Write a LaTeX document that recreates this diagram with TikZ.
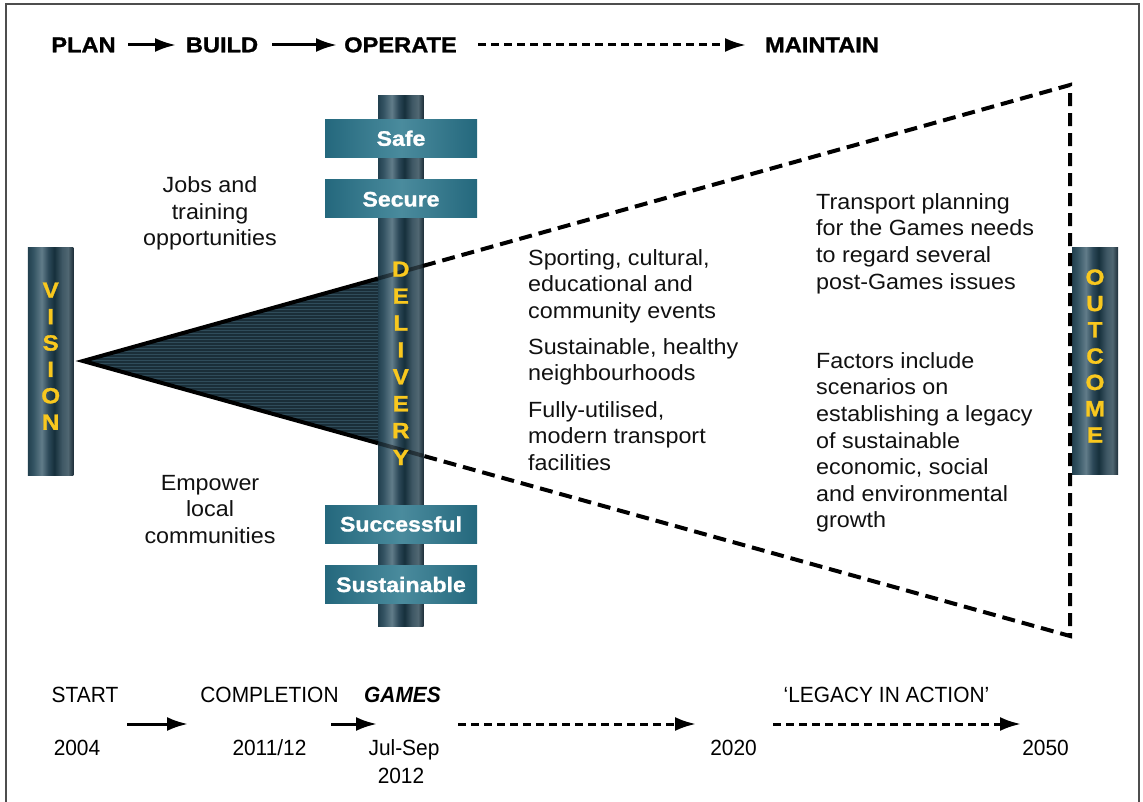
\documentclass[tikz,border=0pt]{standalone}
\usepackage{fontspec}
\setmainfont{Liberation Sans}
\newfontfamily\bodyf[FakeStretch=1.06]{Liberation Sans}
\newfontfamily\boldf[FakeStretch=1.1,FakeBold=1.2]{Liberation Sans Bold}
\newfontfamily\condf[FakeStretch=0.95]{Liberation Sans}
\usetikzlibrary{arrows.meta,patterns,calc}

\definecolor{pA}{HTML}{22404F}
\definecolor{pB}{HTML}{345463}
\definecolor{pC}{HTML}{617C89}
\definecolor{pD}{HTML}{2C4858}
\definecolor{pE}{HTML}{16303C}
\definecolor{pF}{HTML}{3F5865}
\definecolor{pG}{HTML}{506772}
\definecolor{pH}{HTML}{1D2E39}
\definecolor{pyel}{HTML}{F9C81E}
\definecolor{boxD}{HTML}{24687D}
\definecolor{boxL}{HTML}{4A8B9D}
\definecolor{tridark}{HTML}{1A2E38}
\definecolor{triline}{HTML}{2F4C5A}
\definecolor{framec}{HTML}{4D4D4D}
\definecolor{txt}{HTML}{111111}

\pgfdeclarehorizontalshading{pillarsh}{100bp}{color(0bp)=(pA); color(25bp)=(pA); color(31bp)=(pB); color(40bp)=(pC); color(47.5bp)=(pD); color(54bp)=(pE); color(62.5bp)=(pF); color(69bp)=(pG); color(75bp)=(pH); color(100bp)=(pH)}
\pgfdeclarehorizontalshading{boxsh}{100bp}{color(0bp)=(boxD); color(25bp)=(boxD); color(50bp)=(boxL); color(75bp)=(boxD); color(100bp)=(boxD)}

\tikzset{
  pillar/.style={shading=pillarsh, draw=none, inner sep=0pt, minimum width=45.5pt},
  pl/.style={text=pyel, font=\boldf\fontsize{22}{22}\selectfont, text height=15.5pt, text depth=0pt, inner sep=0pt},
  plate/.style={shading=boxsh, draw=none, minimum width=152pt, minimum height=38pt, inner sep=0pt, text=white, font=\boldf\fontsize{21}{21}\selectfont, text height=15pt, text depth=0pt},
  para/.style={inner sep=0pt, font=\bodyf\fontsize{22}{26.6}\selectfont, text=txt},
  hdr/.style={inner sep=0pt, font=\boldf\fontsize{21.5}{21.5}\selectfont, anchor=base},
  tline/.style={inner sep=0pt, font=\condf\fontsize{22}{27}\selectfont, anchor=base, text=black},
  solidarrow/.style={line width=3pt, -{Latex[length=21pt,width=14pt]}},
  dasharrow/.style={line width=3pt, dash pattern=on 8pt off 5pt, -{Latex[length=21pt,width=14pt]}},
  triedge/.style={line width=4pt, line join=miter},
  dashedge/.style={line width=4pt, dash pattern=on 13pt off 7pt, line join=miter},
}

\begin{document}
\begin{tikzpicture}[x=1pt,y=-1pt]
\useasboundingbox (0,0) rectangle (1143,802);
\fill[white] (0,0) rectangle (1143,802);
\draw[line width=2pt, draw=framec] (6,4) rectangle (1139,812);

% header
\node[hdr] (plan) at (83.5,52.3) {PLAN};
\node[hdr] (build) at (222,52.3) {BUILD};
\node[hdr] (operate) at (400.5,52.3) {OPERATE};
\node[hdr] (maintain) at (822,52.3) {MAINTAIN};
\coordinate (h1s) at (128,45);
\coordinate (h1e) at (176,45);
\coordinate (h2s) at (272,45);
\coordinate (h2e) at (337,45);
\coordinate (h3s) at (478,45);
\coordinate (h3e) at (746,45);
\draw[solidarrow] (h1s) -- (h1e);
\draw[solidarrow] (h2s) -- (h2e);
\draw[dasharrow] (h3s) -- (h3e);

% pillars
\node[pillar, minimum height=227pt] (vision) at (50.7,361.5) {};
\node[pillar, minimum height=530pt] (delivery) at (400.8,361) {};
\node[pillar, minimum width=46pt, minimum height=226pt] (outcome) at (1095,361) {};

% triangle and cone
\coordinate (apex) at (83,361);
\coordinate (cT) at (1070,85);
\coordinate (cB) at (1070,636);
\coordinate (tA) at ($(apex)!0.29889!(cT)$);
\coordinate (bA) at ($(apex)!0.29889!(cB)$);
\coordinate (tB) at ($(apex)!0.34448!(cT)$);
\coordinate (bB) at ($(apex)!0.34448!(cB)$);
\path[preaction={fill=tridark}, pattern=horizontal lines, pattern color=triline] (apex) -- (tA) -- (bA) -- cycle;
\draw[triedge] (tA) -- (apex) -- (bA);
\draw[triedge, draw opacity=0.45] (tA) -- (tB);
\draw[triedge, draw opacity=0.45] (bA) -- (bB);
\draw[dashedge] (tB) -- (cT) -- (cB) -- (bB);

% plates
\node[plate] (safe) at (401,138.3) {Safe};
\node[plate] (secure) at (401,199) {Secure};
\node[plate] (successful) at (401,524) {Successful};
\node[plate] (sustainable) at (401,584.5) {Sustainable};

% pillar letters
\foreach \l [count=\i] in {V,I,S,I,O,N}
  \node[pl] (vis\i) at (50.7,{290+(\i-1)*26.4}) {\l};
\foreach \l [count=\i] in {D,E,L,I,V,E,R,Y}
  \node[pl] (del\i) at (400.8,{269+(\i-1)*26.9}) {\l};
\foreach \l [count=\i] in {O,U,T,C,O,M,E}
  \node[pl] (out\i) at (1095,{277+(\i-1)*26.3}) {\l};

% paragraphs
\node[para, anchor=north, align=center] (jobs) at (210,173.7) {\strut Jobs and\\training\\opportunities};
\node[para, anchor=north, align=center] (empower) at (210,471.4) {\strut Empower\\local\\communities};
\node[para, anchor=north west, align=left] (events) at (528,246.4) {\strut Sporting, cultural,\\educational and\\community events};
\node[para, anchor=north west, align=left] (hoods) at (528,335.4) {\strut Sustainable, healthy\\neighbourhoods};
\node[para, anchor=north west, align=left] (facil) at (528,398.4) {\strut Fully-utilised,\\modern transport\\facilities};
\node[para, anchor=north west, align=left] (transport) at (816,190.4) {\strut Transport planning\\for the Games needs\\to regard several\\post-Games issues};
\node[para, anchor=north west, align=left] (factors) at (816,349.4) {\strut Factors include\\scenarios on\\establishing a legacy\\of sustainable\\economic, social\\and environmental\\growth};

% timeline
\node[tline] (start) at (85,702.7) {START};
\node[tline] (completion) at (269.5,702.7) {COMPLETION};
\node[tline] (games) at (402.5,702.7) {\bfseries\itshape GAMES};
\node[tline] (legacy) at (886.5,702.7) {‘LEGACY IN ACTION’};
\node[tline] (y2004) at (77,755) {2004};
\node[tline] (y2011) at (269.5,755) {2011/12};
\node[tline] (jul) at (404,755) {Jul-Sep};
\node[tline] (y2012) at (401,783) {2012};
\node[tline] (y2020) at (733.5,755) {2020};
\node[tline] (y2050) at (1045.5,755) {2050};
\coordinate (b1s) at (127,724);
\coordinate (b1e) at (188,724);
\coordinate (b2s) at (331,724);
\coordinate (b2e) at (377,724);
\coordinate (b3s) at (458,724);
\coordinate (b3e) at (696,724);
\coordinate (b4s) at (773,724);
\coordinate (b4e) at (1021,724);
\draw[solidarrow] (b1s) -- (b1e);
\draw[solidarrow] (b2s) -- (b2e);
\draw[dasharrow] (b3s) -- (b3e);
\draw[dasharrow] (b4s) -- (b4e);
\end{tikzpicture}
\end{document}
